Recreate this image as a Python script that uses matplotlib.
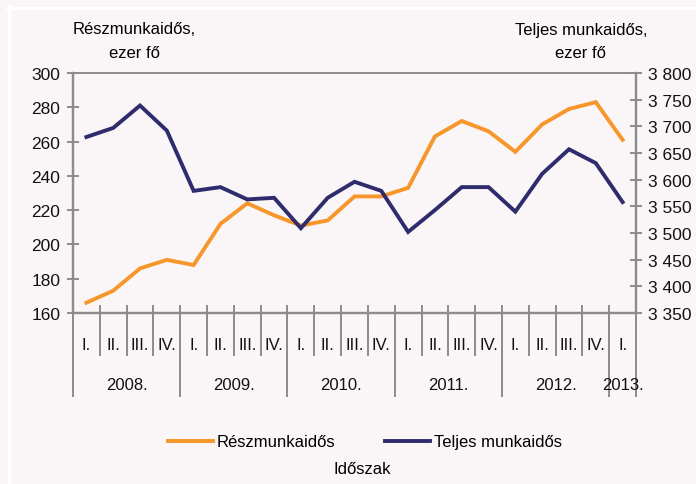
import matplotlib
matplotlib.use("Agg")
import matplotlib.pyplot as plt
from matplotlib.lines import Line2D
from matplotlib.ticker import FuncFormatter

plt.rcParams['font.family'] = ['Liberation Sans', 'DejaVu Sans']

quarters = ["I.", "II.", "III.", "IV."] * 5 + ["I."]
years = ["2008.", "2009.", "2010.", "2011.", "2012.", "2013."]
part_time = [166, 173, 186, 191, 188, 212, 224, 217, 211, 214, 228, 228,
             233, 263, 272, 266, 254, 270, 279, 283, 261]
full_time = [3680, 3697, 3739, 3692, 3579, 3586, 3563, 3566, 3509, 3566, 3596, 3579,
             3502, 3543, 3586, 3586, 3540, 3611, 3657, 3631, 3558]
left_ticks = [160, 180, 200, 220, 240, 260, 280, 300]
right_ticks = [3350, 3400, 3450, 3500, 3550, 3600, 3650, 3700, 3750, 3800]

ORANGE = "#F7962A"
NAVY = "#2F2C6E"
GRAY = "#8C8C8C"
BG = "#FAF6F8"

W, H = 696, 485
fig = plt.figure(figsize=(W / 100, H / 100), dpi=100, facecolor=BG)
# thin white inner frame lines (top and left)
fig.add_artist(Line2D([7 / W, 1], [1 - 8.5 / H, 1 - 8.5 / H], transform=fig.transFigure,
                      color="white", lw=2.2, zorder=-5))
fig.add_artist(Line2D([8.5 / W, 8.5 / W], [0, 1 - 7 / H], transform=fig.transFigure,
                      color="white", lw=2.2, zorder=-5))

ax = fig.add_axes([73 / W, 1 - 314 / H, (636 - 73) / W, 240 / H])
ax.patch.set_alpha(0)
ax2 = ax.twinx()

n = len(part_time)
xs = [i + 0.5 for i in range(n)]
ax.plot(xs, part_time, color=ORANGE, lw=2.8, solid_joinstyle="miter", zorder=3)
ax2.plot(xs, full_time, color=NAVY, lw=2.8, solid_joinstyle="miter", zorder=3)

ax.set_xlim(0, n)
ax.set_ylim(160, 300)
ax2.set_ylim(3350, 3800)
ax.set_yticks(left_ticks)
ax2.set_yticks(right_ticks)
ax2.yaxis.set_major_formatter(FuncFormatter(lambda v, p: f"{int(v):,}".replace(",", " ")))
ax.set_xticks([])

for a in (ax, ax2):
    for s in a.spines.values():
        s.set_color(GRAY)
        s.set_linewidth(1.6)
    a.spines["top"].set_linewidth(1.2)
    a.tick_params(axis="y", direction="inout", length=8, width=1.4, color=GRAY,
                  labelsize=12.5, labelcolor="#111111", pad=5)

xt = ax.get_xaxis_transform()
for i in range(n + 1):
    is_year = (i % 4 == 0) or i == n
    bottom = -0.346 if is_year else -0.175
    ax.add_line(Line2D([i, i], [0.03, bottom], transform=xt, color=GRAY, lw=1.4,
                       clip_on=False))
for i, q in enumerate(quarters):
    ax.text(i + 0.5, -0.13, q, transform=xt, ha="center", va="center", fontsize=12,
            color="#111111")
for k, y in enumerate(years):
    start = 4 * k
    end = min(4 * k + 4, n)
    ax.text((start + end) / 2, -0.3, y, transform=xt, ha="center", va="center",
            fontsize=12, color="#111111")

fig.text(134 / W, 1 - 30 / H, "Részmunkaidős,", ha="center", va="center", fontsize=12)
fig.text(134 / W, 1 - 54 / H, "ezer fő", ha="center", va="center", fontsize=12)
fig.text(581 / W, 1 - 30 / H, "Teljes munkaidős,", ha="center", va="center", fontsize=12)
fig.text(580 / W, 1 - 54 / H, "ezer fő", ha="center", va="center", fontsize=12)

handles = [Line2D([], [], color=ORANGE, lw=2.8), Line2D([], [], color=NAVY, lw=2.8)]
fig.legend(handles, ["Részmunkaidős", "Teljes munkaidős"], loc="center",
           bbox_to_anchor=(365 / W, 1 - 443 / H), ncol=2, frameon=False, fontsize=12,
           handlelength=2.7, handletextpad=0.25, columnspacing=3.0)
fig.text(362 / W, 1 - 470 / H, "Időszak", ha="center", va="center", fontsize=12)

fig.savefig("out.png", dpi=100, facecolor=fig.get_facecolor())
